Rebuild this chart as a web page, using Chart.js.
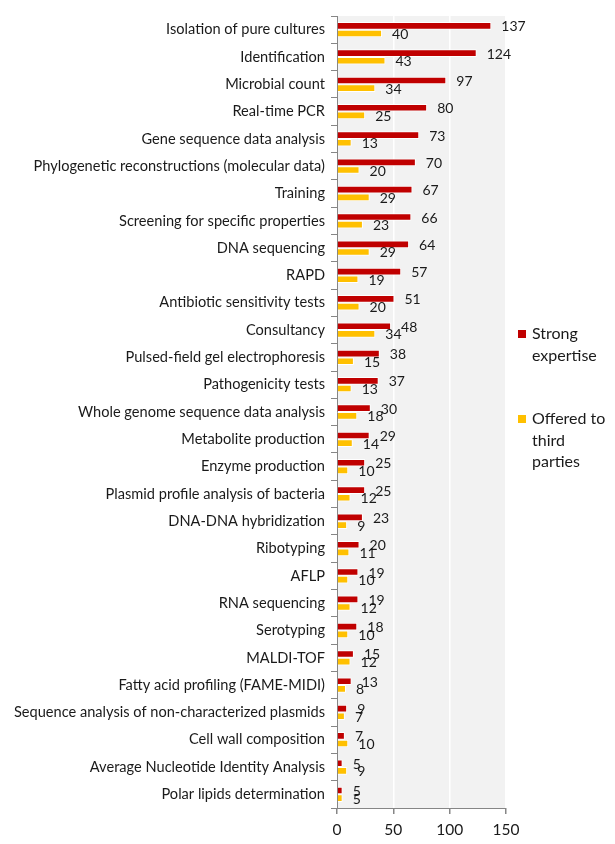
<!DOCTYPE html>
<html>
<head>
<meta charset="utf-8">
<script src="https://cdn.jsdelivr.net/npm/chart.js@4.4.1/dist/chart.umd.min.js"></script>
<style>
  body { margin: 0; background: #fff; }
  #wrap { width: 615px; height: 844px; }
</style>
</head>
<body>
<div id="wrap"><canvas id="expertiseChart" width="615" height="844"></canvas></div>
<script>
const categories = [
  "Isolation of pure cultures", "Identification", "Microbial count", "Real-time PCR",
  "Gene sequence data analysis", "Phylogenetic reconstructions (molecular data)", "Training",
  "Screening for specific properties", "DNA sequencing", "RAPD", "Antibiotic sensitivity tests",
  "Consultancy", "Pulsed-field gel electrophoresis", "Pathogenicity tests",
  "Whole genome sequence data analysis", "Metabolite production", "Enzyme production",
  "Plasmid profile analysis of bacteria", "DNA-DNA hybridization", "Ribotyping", "AFLP",
  "RNA sequencing", "Serotyping", "MALDI-TOF", "Fatty acid profiling (FAME-MIDI)",
  "Sequence analysis of non-characterized plasmids", "Cell wall composition",
  "Average Nucleotide Identity Analysis", "Polar lipids determination"
];
const strongExpertise = [137, 124, 97, 80, 73, 70, 67, 66, 64, 57, 51, 48, 38, 37, 30, 29, 25, 25, 23, 20, 19, 19, 18, 15, 13, 9, 7, 5, 5];
const offeredToThird = [40, 43, 34, 25, 13, 20, 29, 23, 29, 19, 20, 34, 15, 13, 18, 14, 10, 12, 9, 11, 10, 12, 10, 12, 8, 7, 10, 9, 5];
const xTicks = [0, 50, 100, 150];
const legendItems = [
  { lines: ["Strong", "expertise"], color: "#c00000" },
  { lines: ["Offered to", "third", "parties"], color: "#ffc000" }
];

const FONT = "Lato, 'Open Sans', sans-serif";

// grey plot background
const plotBg = {
  id: "plotBg",
  beforeDraw(chart) {
    const { ctx, chartArea: a } = chart;
    ctx.save();
    ctx.fillStyle = "#f2f2f2";
    ctx.fillRect(a.left, a.top, a.right - a.left, a.bottom - a.top);
    ctx.restore();
  }
};

// value labels at the end of each bar
const barValues = {
  id: "barValues",
  afterDatasetsDraw(chart) {
    const ctx = chart.ctx;
    ctx.save();
    ctx.font = "14px " + FONT;
    ctx.fillStyle = "#1a1a1a";
    ctx.textAlign = "left";
    ctx.textBaseline = "middle";
    chart.data.datasets.forEach((ds, i) => {
      chart.getDatasetMeta(i).data.forEach((bar, j) => {
        ctx.fillText(String(ds.data[j]), bar.x + 10, bar.y + 1);
      });
    });
    ctx.restore();
  }
};

// legend on the right, wrapped like the original
const sideLegend = {
  id: "sideLegend",
  afterDraw(chart) {
    const ctx = chart.ctx;
    ctx.save();
    ctx.font = "16px " + FONT;
    ctx.textBaseline = "middle";
    const starts = [334, 419];
    legendItems.forEach((item, i) => {
      const y0 = starts[i];
      ctx.fillStyle = item.color;
      ctx.fillRect(518, y0 - 4, 8, 8);
      ctx.fillStyle = "#1a1a1a";
      item.lines.forEach((t, k) => ctx.fillText(t, 532, y0 + k * 21.5));
    });
    ctx.restore();
  }
};

new Chart(document.getElementById("expertiseChart").getContext("2d"), {
  type: "bar",
  data: {
    labels: categories,
    datasets: [
      {
        label: "Strong expertise",
        data: strongExpertise,
        backgroundColor: "#c00000",
        borderColor: "#ffffff",
        borderWidth: 1,
        categoryPercentage: 0.56,
        barPercentage: 1.0
      },
      {
        label: "Offered to third parties",
        data: offeredToThird,
        backgroundColor: "#ffc000",
        borderColor: "#ffffff",
        borderWidth: 1,
        categoryPercentage: 0.56,
        barPercentage: 1.0
      }
    ]
  },
  options: {
    indexAxis: "y",
    responsive: false,
    animation: false,
    layout: { padding: { top: 16, right: 109, left: 0, bottom: 0 } },
    plugins: {
      legend: { display: false },
      tooltip: { enabled: false }
    },
    scales: {
      x: {
        min: 0,
        max: 150,
        afterBuildTicks: (s) => { s.ticks = xTicks.map(v => ({ value: v })); },
        grid: { color: "#ffffff", lineWidth: 1.5, tickColor: "#868686", tickLength: 6 },
        border: { color: "#868686" },
        ticks: { font: { family: FONT, size: 15.5 }, color: "#1a1a1a", padding: 7 },
        afterFit: (s) => { s.height = 36; }
      },
      y: {
        grid: { drawOnChartArea: false, tickColor: "#868686", tickLength: 6, offset: true },
        border: { color: "#868686" },
        ticks: { font: { family: FONT, size: 14.6 }, color: "#1a1a1a", padding: 6, autoSkip: false },
        afterFit: (s) => { s.width = 337; }
      }
    }
  },
  plugins: [plotBg, barValues, sideLegend]
});
</script>
</body>
</html>
